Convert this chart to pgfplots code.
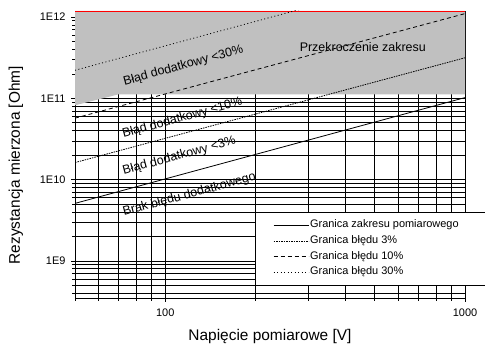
\documentclass[border=0pt]{standalone}
\usepackage{pgfplots}
\pgfplotsset{compat=1.18}
\usepackage{fontspec}
\setmainfont{Liberation Sans}
\definecolor{areagray}{RGB}{192,192,192}
\begin{document}
\begin{tikzpicture}
\begin{axis}[
 name=ax, scale only axis, width=390bp, height=287bp,
 xmode=log, ymode=log, xmin=50, xmax=1000, ymin=3.5e8, ymax=1.185e12,
 axis x line*=bottom, axis y line*=left,
 xtick={100,1000}, xticklabels={100,1000},
 minor xtick={50,60,70,80,90,200,300,400,500,600,700,800,900},
 ytick={1e9,1e10,1e11,1e12}, yticklabels={1E9,1E10,1E11,1E12},
 minor ytick={4e8,5e8,6e8,7e8,8e8,9e8,2e9,3e9,4e9,5e9,6e9,7e9,8e9,9e9,2e10,3e10,4e10,5e10,6e10,7e10,8e10,9e10,2e11,3e11,4e11,5e11,6e11,7e11,8e11,9e11},
 grid=both,
 major grid style={black, line width=0.6bp},
 minor grid style={black, line width=0.6bp},
 tick align=outside,
 major tick length=4bp, minor tick length=3bp,
 every tick/.style={black, line width=0.6bp},
 axis line style={black, line width=0.6bp},
 /pgf/number format/assume math mode=true,
 ticklabel style={font=\fontsize{11}{13}\selectfont},
 xticklabel style={yshift=-3bp},
 yticklabel style={xshift=-2bp},
 xlabel={Napięcie pomiarowe [V]},
 ylabel={Rezystancja mierzona [Ohm]},
 label style={font=\fontsize{15.5}{18}\selectfont},
 x label style={at={(axis description cs:0.5,-0.1359)}, anchor=center},
 y label style={at={(axis description cs:-0.1513,0.463)}, anchor=center},
 legend cell align=left,
 legend style={at={(axis description cs:0.4615,0.2997)}, anchor=north west,
   draw=black, line width=0.6bp, fill=white,
   inner xsep=18bp, inner ysep=5.15bp, row sep=0bp, column sep=1bp,
   font=\fontsize{11}{13}\selectfont,
   nodes={inner xsep=0bp, inner ysep=2.35bp, text height=8bp, text depth=3bp}},
 legend image code/.code={\draw[#1] (0bp,0bp) -- (35bp,0bp);},
]
% overflow region
\addplot[fill=areagray, draw=none, forget plot] coordinates {(50,8.2e10) (70,1.12e11) (1000,1.12e11) (1000,1.185e12) (50,1.185e12)} -- cycle;
\addplot[red, line width=1bp, forget plot] coordinates {(50,1.18e12) (1000,1.18e12)};
% limits
\addplot[black, line width=0.8bp] coordinates {(50,5.1e9) (1000,1.02e11)};
\addlegendentry{Granica zakresu pomiarowego\hspace*{40bp}}
\addplot[black, line width=0.8bp, dash pattern=on 1.5bp off 1bp] coordinates {(50,1.62e10) (1000,3.15e11)};
\addlegendentry{Granica błędu 3\%}
\addplot[black, line width=0.8bp, dash pattern=on 4bp off 3bp] coordinates {(50,5.7e10) (1000,1.1e12)};
\addlegendentry{Granica błędu 10\%}
\addplot[black, line width=0.8bp, dash pattern=on 1bp off 2.5bp] coordinates {(50,2.21e11) (1000,4.4e12)};
\addlegendentry{Granica błędu 30\%}
\node[rotate=15.2, font=\fontsize{12.5}{14}\selectfont] at (axis cs:114.9,2.5e11) {Błąd dodatkowy <30\%};
\node[rotate=15.2, font=\fontsize{12.5}{14}\selectfont] at (axis cs:114,5.7e10) {Błąd dodatkowy <10\%};
\node[rotate=15.2, font=\fontsize{12.5}{14}\selectfont] at (axis cs:111.4,1.94e10) {Błąd dodatkowy <3\%};
\node[rotate=15.2, font=\fontsize{12.5}{14}\selectfont] at (axis cs:120.3,6.5e9) {Brak błędu dodatkowego};
\node[font=\fontsize{12.5}{14}\selectfont] at (axis cs:456,4.28e11) {Przekroczenie zakresu};
\end{axis}
\pgfresetboundingbox
\path ([shift={(-75bp,-47bp)}]ax.south west) rectangle ([shift={(410bp,298bp)}]ax.south west);
\end{tikzpicture}
\end{document}
